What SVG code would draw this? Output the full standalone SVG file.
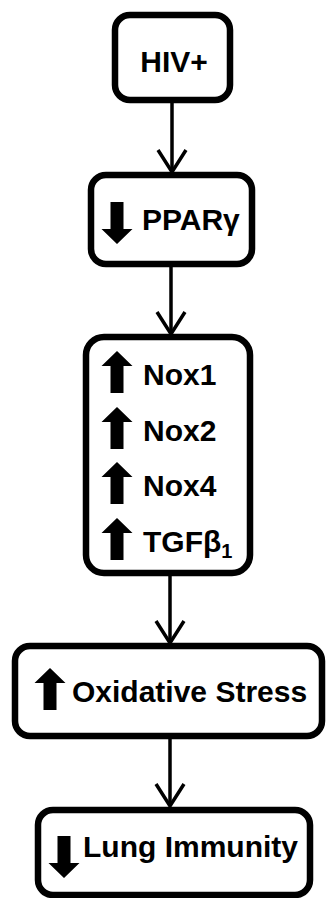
<svg xmlns="http://www.w3.org/2000/svg" xmlns:xlink="http://www.w3.org/1999/xlink" width="328" height="898" viewBox="0 0 328 898">
<style>
.box{fill:#fff;stroke:#000;stroke-width:6.5}
.t{font-family:"Liberation Sans",Arial,sans-serif;font-weight:bold;font-size:30px;fill:#000}
.sub{font-size:20px}
.conn{stroke:#000;stroke-width:3.5;fill:none}
</style>
<defs>
<marker id="v" markerUnits="userSpaceOnUse" markerWidth="40" markerHeight="40" refX="0" refY="0" orient="auto" overflow="visible">
<path d="M-22,-14 L0,0 L-22,14" fill="none" stroke="#000" stroke-width="3.5"/>
</marker>
<polygon id="up" points="0,-21 15.5,-6 6.5,-6 6.5,21 -6.5,21 -6.5,-6 -15.5,-6" fill="#000"/>
<polygon id="down" points="0,21 15.5,6 6.5,6 6.5,-21 -6.5,-21 -6.5,6 -15.5,6" fill="#000"/>
</defs>
<rect width="328" height="898" fill="#fff"/>
<g id="connectors">
<line class="conn" x1="172" y1="103" x2="172" y2="172" marker-end="url(#v)"/>
<line class="conn" x1="171" y1="267" x2="171" y2="334" marker-end="url(#v)"/>
<line class="conn" x1="170" y1="576" x2="170" y2="643" marker-end="url(#v)"/>
<line class="conn" x1="170" y1="739" x2="170" y2="806" marker-end="url(#v)"/>
</g>
<g id="hiv">
<rect class="box" x="115" y="15" width="115" height="85" rx="15"/>
<text class="t" x="174" y="72" text-anchor="middle">HIV+</text>
</g>
<g id="ppar">
<rect class="box" x="91" y="175" width="161" height="89" rx="15"/>
<use xlink:href="#down" x="117" y="223"/>
<text class="t" x="142" y="230">PPARγ</text>
</g>
<g id="nox">
<rect class="box" x="86" y="337" width="164" height="236" rx="18"/>
<use xlink:href="#up" x="117" y="372"/>
<text class="t" x="143" y="385">Nox1</text>
<use xlink:href="#up" x="117" y="428"/>
<text class="t" x="143" y="441">Nox2</text>
<use xlink:href="#up" x="117" y="483"/>
<text class="t" x="143" y="496">Nox4</text>
<use xlink:href="#up" x="117" y="539"/>
<text class="t" x="143" y="552">TGFβ<tspan class="sub" dy="6">1</tspan></text>
</g>
<g id="oxidative">
<rect class="box" x="15" y="646" width="307" height="90" rx="15"/>
<use xlink:href="#up" x="50" y="689"/>
<text class="t" x="72" y="702">Oxidative Stress</text>
</g>
<g id="lung">
<rect class="box" x="38" y="810" width="272" height="85" rx="15"/>
<use xlink:href="#down" x="64" y="857"/>
<text class="t" x="83" y="857">Lung Immunity</text>
</g>
</svg>
